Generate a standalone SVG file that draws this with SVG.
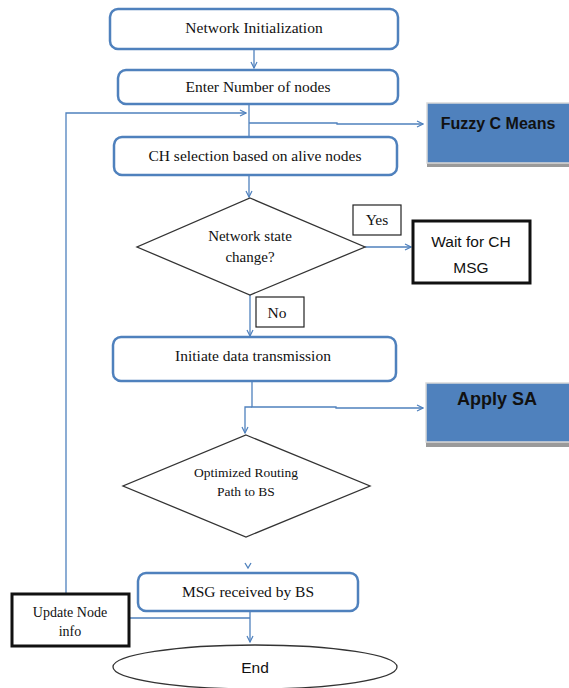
<svg xmlns="http://www.w3.org/2000/svg" width="569" height="688" viewBox="0 0 569 688">
<defs>
<marker id="ah" markerWidth="8" markerHeight="8" refX="7" refY="4" orient="auto" markerUnits="userSpaceOnUse">
<path d="M1,1 L7,4 L1,7" fill="none" stroke="#4f81bd" stroke-width="1.2"/>
</marker>
</defs>
<style>
.rbox{fill:#fff;stroke:#4f81bd;stroke-width:2.5}
.dia{fill:#fff;stroke:#333;stroke-width:1.3}
.bbox{fill:#fff;stroke:#111;stroke-width:3}
.lbl{fill:#fff;stroke:#222;stroke-width:1.2}
.blue{fill:#4f81bd;stroke:#d9d9d9;stroke-width:1.5}
.sh{fill:#9a9a9a}
.serif{font-family:"Liberation Serif","Times New Roman",serif;font-size:15.5px;fill:#111;text-anchor:middle}
.sans{font-family:"Liberation Sans",Arial,sans-serif;font-size:15.5px;fill:#111;text-anchor:middle}
.bold{font-family:"Liberation Sans",Arial,sans-serif;font-size:16px;font-weight:bold;fill:#111;text-anchor:middle}
.conn{fill:none;stroke:#4f81bd;stroke-width:1.3}
</style>

<g id="connectors">
<path class="conn" d="M254,49 V68" marker-end="url(#ah)"/>
<path class="conn" d="M249,104 V136"/>
<path class="conn" d="M66,593 V113 H246" marker-end="url(#ah)"/>
<path class="conn" d="M249,123 H337 V124 H423" marker-end="url(#ah)"/>
<path class="conn" d="M249,175 V197" marker-end="url(#ah)"/>
<path class="conn" d="M365,247 H411" marker-end="url(#ah)"/>
<path class="conn" d="M250,295 V336" marker-end="url(#ah)"/>
<path class="conn" d="M252,381 V407 H336 V408 H423" marker-end="url(#ah)"/>
<path class="conn" d="M252,407 H245 V433" marker-end="url(#ah)"/>
<path class="conn" d="M245,563 L248,568 L251,563"/>
<path class="conn" d="M250,593 V642" marker-end="url(#ah)"/>
<path class="conn" d="M129,618 H250"/>
</g>

<g id="n1"><rect class="rbox" x="110" y="9" width="288" height="40" rx="8"/><text class="serif" x="254" y="33">Network Initialization</text></g>
<g id="n2"><rect class="rbox" x="118" y="70" width="280" height="34" rx="8"/><text class="serif" x="258" y="92">Enter Number of nodes</text></g>
<g id="fcm"><rect class="sh" x="427" y="163" width="142" height="4"/><rect class="blue" x="427" y="103" width="150" height="60"/><text class="bold" x="498" y="129">Fuzzy C Means</text></g>
<g id="n3"><rect class="rbox" x="114" y="137" width="283" height="38" rx="8"/><text class="serif" x="255" y="161">CH selection based on alive nodes</text></g>
<g id="d1"><polygon class="dia" points="250,198 365,247 250,295 137,247"/><text class="serif" x="250" y="241" style="font-size:15px">Network state</text><text class="serif" x="250" y="262" style="font-size:15px">change?</text></g>
<g id="yes"><rect class="lbl" x="353" y="205" width="48" height="30"/><text class="serif" x="377" y="225">Yes</text></g>
<g id="wait"><rect class="bbox" x="413" y="221" width="117" height="62"/><text class="sans" x="471" y="247">Wait for CH</text><text class="sans" x="471" y="273">MSG</text></g>
<g id="no"><rect class="lbl" x="256" y="297" width="48" height="30"/><text class="serif" x="277" y="318">No</text></g>
<g id="n4"><rect class="rbox" x="113" y="337" width="283" height="44" rx="8"/><text class="serif" x="253" y="361">Initiate data transmission</text></g>
<g id="sa"><rect class="sh" x="426" y="442" width="143" height="5"/><rect class="blue" x="426" y="383" width="150" height="59"/><text class="bold" x="497" y="405" style="font-size:18px">Apply SA</text></g>
<g id="d2"><polygon class="dia" points="246,435 370,486 246,537 123,486"/><text class="serif" x="246" y="477" style="font-size:13.5px">Optimized Routing</text><text class="serif" x="246" y="496" style="font-size:13.5px">Path to BS</text></g>
<g id="n5"><rect class="rbox" x="138" y="573" width="220" height="38" rx="8"/><text class="serif" x="248" y="597">MSG received by BS</text></g>
<g id="upd"><rect class="bbox" x="12" y="594" width="117" height="52"/><text class="serif" x="70" y="617" style="font-size:14px">Update Node</text><text class="serif" x="70" y="636" style="font-size:14px">info</text></g>
<g id="end"><ellipse cx="255" cy="667" rx="142" ry="22" fill="#fff" stroke="#333" stroke-width="1.3"/><text class="sans" x="255" y="673">End</text></g>
</svg>
